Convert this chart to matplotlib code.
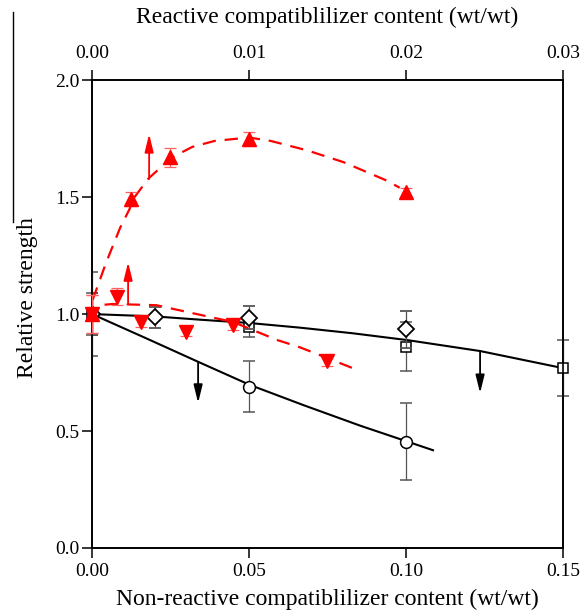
import numpy as np
import matplotlib.pyplot as plt
from matplotlib.lines import Line2D

plt.rcParams['font.family'] = ['Liberation Serif', 'DejaVu Serif']

# non-reactive compatibilizer (bottom axis)
x_circ = [0.0, 0.05, 0.10]
y_circ = [1.0, 0.69, 0.455]
e_circ = [0.18, 0.11, 0.165]

x_diam = [0.0, 0.02, 0.05, 0.10]
y_diam = [1.0, 0.987, 0.985, 0.935]
e_diam = [0.09, 0.045, 0.05, 0.08]

x_sq = [0.0, 0.05, 0.10, 0.15]
y_sq = [1.0, 0.945, 0.86, 0.77]
e_sq = [0.09, 0.045, 0.105, 0.12]

# reactive compatibilizer (top axis)
x_up = [0.0, 0.0025, 0.005, 0.01, 0.02]
y_up = [1.0, 1.49, 1.67, 1.75, 1.52]
e_up = [0.08, 0.03, 0.04, 0.03, 0.02]

x_dn = [0.0, 0.0016, 0.0031, 0.006, 0.009, 0.015]
y_dn = [1.0, 1.075, 0.965, 0.925, 0.952, 0.80]
e_dn = [0.08, 0.035, 0.02, 0.02, 0.02, 0.02]

# fitted curves
fit_sq_x = [0.0, 0.02, 0.0344, 0.05, 0.0662, 0.0830, 0.1003, 0.1236, 0.15]
fit_sq_y = [1.0, 0.990, 0.976, 0.962, 0.942, 0.918, 0.889, 0.842, 0.769]
fit_circ_x = [0.0, 0.0170, 0.0338, 0.0503, 0.0675, 0.0854, 0.1086]
fit_circ_y = [1.0, 0.898, 0.796, 0.697, 0.610, 0.523, 0.418]

fit_up_x = [0.00004, 0.0002, 0.0009, 0.0018, 0.0024, 0.0026, 0.0036, 0.0051,
            0.0064, 0.0078, 0.0100, 0.0114, 0.0137, 0.0160, 0.0188, 0.0196]
fit_up_y = [1.06, 1.09, 1.22, 1.37, 1.45, 1.49, 1.58, 1.67,
            1.715, 1.74, 1.755, 1.74, 1.70, 1.65, 1.57, 1.54]
fit_dn_x = [0.0008, 0.0013, 0.0041, 0.0064, 0.009, 0.0118, 0.0132, 0.0145, 0.0166]
fit_dn_y = [1.04, 1.043, 1.038, 1.004, 0.966, 0.889, 0.859, 0.825, 0.769]

fig = plt.figure(figsize=(5.84, 6.12), dpi=100)
ax = fig.add_axes([0.1575, 0.1046, 0.8065, 0.7644])
ax2 = ax.twiny()

ax.set_xlim(0, 0.15)
ax.set_ylim(0, 2.0)
ax2.set_xlim(0, 0.03)

ecol = '#555555'
ax.plot(fit_sq_x, fit_sq_y, color='black', lw=1.5, zorder=2)
ax.plot(fit_circ_x, fit_circ_y, color='black', lw=1.5, zorder=2)

ax.errorbar(x_circ, y_circ, yerr=e_circ, fmt='o', ms=8.5, mfc='white', mec='black',
            mew=1.1, ecolor=ecol, elinewidth=0.9, capsize=4.5, capthick=0.9, zorder=3)
ax.errorbar(x_sq, y_sq, yerr=e_sq, fmt='s', ms=7.5, mfc='white', mec='black',
            mew=1.1, ecolor=ecol, elinewidth=0.9, capsize=4.5, capthick=0.9, zorder=3,
            clip_on=False)
ax.errorbar(x_diam, y_diam, yerr=e_diam, fmt='D', ms=8.5, mfc='white', mec='black',
            mew=1.3, ecolor=ecol, elinewidth=0.9, capsize=4.5, capthick=0.9, zorder=4)

red = '#ff0000'
ax2.plot(fit_up_x, fit_up_y, color=red, lw=1.6, dashes=(6, 4), zorder=2)
ax2.plot(fit_dn_x, fit_dn_y, color=red, lw=1.6, dashes=(6, 4), zorder=2)
ax2.errorbar(x_up, y_up, yerr=e_up, fmt='^', ms=10, color=red, ecolor='#ff6060',
             elinewidth=0.9, capsize=4.5, capthick=0.9, zorder=5, clip_on=False)
ax2.errorbar(x_dn, y_dn, yerr=e_dn, fmt='v', ms=10, color=red, ecolor='#ff6060',
             elinewidth=0.9, capsize=4.5, capthick=0.9, zorder=5, clip_on=False)

# arrows
arr = dict(arrowstyle='-|>,head_length=0.9,head_width=0.22', lw=1.3,
           mutation_scale=12, shrinkA=0, shrinkB=0)
ax.annotate('', xy=(0.0182, 1.77), xytext=(0.0182, 1.577), arrowprops=dict(arr, color=red))
ax.annotate('', xy=(0.0115, 1.222), xytext=(0.0115, 1.045), arrowprops=dict(arr, color=red))
ax.annotate('', xy=(0.0338, 0.62), xytext=(0.0338, 0.796), arrowprops=dict(arr, color='black'))
ax.annotate('', xy=(0.1236, 0.662), xytext=(0.1236, 0.842), arrowprops=dict(arr, color='black'))

ax.set_xticks([0.0, 0.05, 0.10, 0.15])
ax.set_xticklabels(['0.00', '0.05', '0.10', '0.15'])
ax.set_yticks([0.0, 0.5, 1.0, 1.5, 2.0])
ax.set_yticklabels(['0.0', '0.5', '1.0', '1.5', '2.0'])
ax2.set_xticks([0.0, 0.01, 0.02, 0.03])
ax2.set_xticklabels(['0.00', '0.01', '0.02', '0.03'])

for a in (ax, ax2):
    a.tick_params(direction='out', length=7, width=1.1, labelsize=14)
    for s in a.spines.values():
        s.set_linewidth(1.2)
ax.tick_params(axis='y', pad=2)
ax2.tick_params(axis='x', pad=6)

ax.set_xlabel('Non-reactive compatiblilizer content (wt/wt)', fontsize=17, labelpad=7)
ax2.set_xlabel('Reactive compatiblilizer content (wt/wt)', fontsize=17, labelpad=16)
ax.set_ylabel('Relative strength', fontsize=17, labelpad=12)
ax.yaxis.label.set_y(0.536)

fig.add_artist(Line2D([0.0223, 0.0223], [0.980, 0.637], color='black', lw=1.0))

fig.savefig('out.png', dpi=100)
